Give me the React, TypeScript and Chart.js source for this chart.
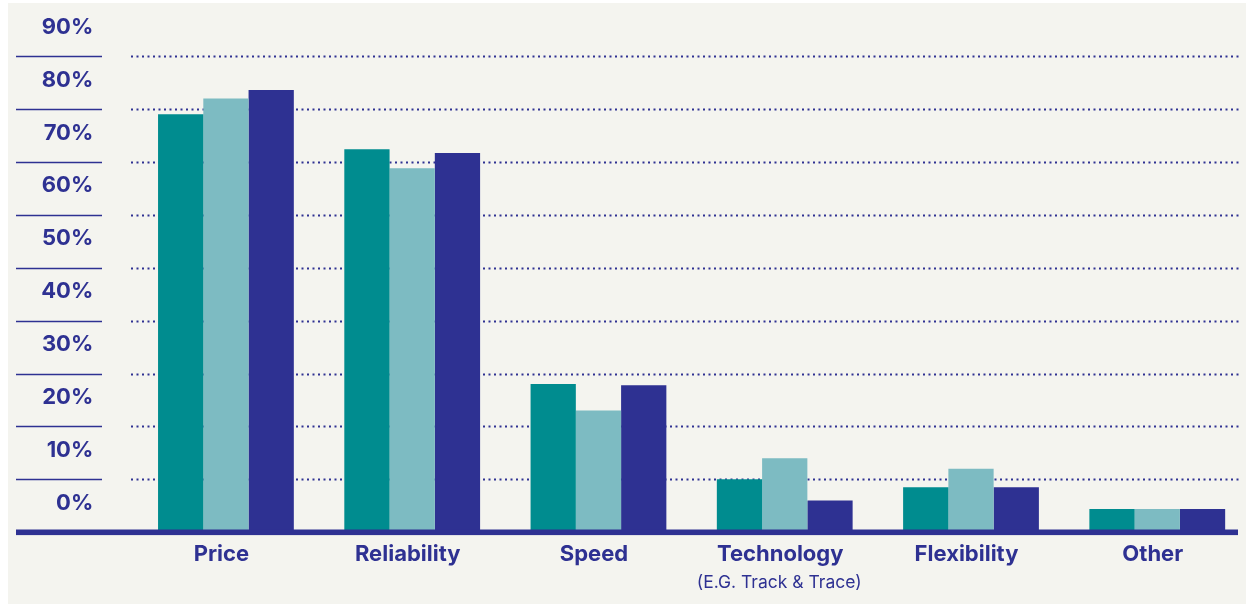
import React, { useEffect, useRef } from "react";
import { Chart, registerables } from "chart.js";

Chart.register(...registerables);

const categories = ["Price", "Reliability", "Speed", "Technology", "Flexibility", "Other"];
const subLabels = ["", "", "", "(E.G. Track & Trace)", "", ""];
const seriesA = [79.0, 72.4, 28.0, 10.0, 8.5, 4.4];
const seriesB = [82.0, 68.8, 23.0, 14.0, 12.0, 4.4];
const seriesC = [83.6, 71.7, 27.8, 6.0, 8.5, 4.4];
const yTicks = [0, 10, 20, 30, 40, 50, 60, 70, 80, 90];

const NAVY = "#2e3192";
const TEAL = "#008c8f";
const LIGHT = "#7dbbc2";
const BG = "#f4f4ef";
const FONT = "Inter, 'Noto Sans', sans-serif";

export default function App() {
  const ref = useRef<HTMLCanvasElement | null>(null);

  useEffect(() => {
    const canvas = ref.current;
    if (!canvas) return;

    const decor = {
      id: "decor",
      beforeDraw(chart: any) {
        const ctx = chart.ctx;
        ctx.save();
        ctx.fillStyle = "#ffffff";
        ctx.fillRect(0, 0, chart.width, chart.height);
        ctx.fillStyle = BG;
        ctx.fillRect(8, 3, 1238, chart.height - 3);
        ctx.restore();
      },
      beforeDatasetsDraw(chart: any) {
        const ctx = chart.ctx;
        const y = chart.scales.y;
        ctx.save();
        ctx.strokeStyle = NAVY;
        yTicks.forEach((t) => {
          if (t === 0) return;
          const py = Math.round(y.getPixelForValue(t)) + 0.5;
          ctx.setLineDash([]);
          ctx.lineWidth = 1.6;
          ctx.beginPath();
          ctx.moveTo(16, py);
          ctx.lineTo(102, py);
          ctx.stroke();
          ctx.lineWidth = 2;
          ctx.setLineDash([2, 3.5]);
          ctx.beginPath();
          ctx.moveTo(131, py);
          ctx.lineTo(1239, py);
          ctx.stroke();
        });
        ctx.restore();
      },
      afterDatasetsDraw(chart: any) {
        const ctx = chart.ctx;
        const y = chart.scales.y;
        const x = chart.scales.x;
        ctx.save();
        const p0 = y.getPixelForValue(0);
        ctx.fillStyle = NAVY;
        ctx.fillRect(16, p0 - 2.7, 1222, 5.6);
        ctx.font = "400 17.5px " + FONT;
        ctx.textAlign = "center";
        ctx.textBaseline = "alphabetic";
        subLabels.forEach((s, i) => {
          if (!s) return;
          ctx.fillText(s, x.getPixelForValue(i) - 5.5, 587.5);
        });
        ctx.restore();
      },
    };

    const chart = new Chart(canvas, {
      type: "bar",
      data: {
        labels: categories,
        datasets: [
          { label: "A", data: seriesA, backgroundColor: TEAL },
          { label: "B", data: seriesB, backgroundColor: LIGHT },
          { label: "C", data: seriesC, backgroundColor: NAVY },
        ],
      },
      options: {
        responsive: false,
        animation: false,
        devicePixelRatio: 1,
        layout: { padding: { left: 0, right: 1.6, top: 56.1, bottom: 0 } },
        datasets: {
          bar: { categoryPercentage: 0.729, barPercentage: 1, borderWidth: 0 },
        },
        plugins: {
          legend: { display: false },
          tooltip: { enabled: false },
        },
        scales: {
          x: {
            grid: { display: false, drawTicks: false },
            border: { display: false },
            ticks: {
              color: NAVY,
              font: { family: FONT, size: 22, weight: "bold" },
              padding: 8.5,
              labelOffset: -4.5,
              maxRotation: 0,
              autoSkip: false,
            },
            afterFit(scale: any) {
              scale.height = 604 - 532.2;
            },
          },
          y: {
            min: 0,
            max: 90,
            grid: { display: false, drawTicks: false },
            border: { display: false },
            ticks: {
              stepSize: 10,
              color: NAVY,
              font: { family: FONT, size: 22, weight: "bold" },
              padding: 39.5,
              labelOffset: -29,
              callback: (v: any) => v + "%",
            },
            afterFit(scale: any) {
              scale.width = 132.8;
            },
          },
        },
      },
      plugins: [decor],
    });

    return () => chart.destroy();
  }, []);

  return (
    <div style={{ position: "fixed", left: 0, top: 0, width: 1252, height: 604 }}>
      <canvas ref={ref} width={1252} height={604} />
    </div>
  );
}
